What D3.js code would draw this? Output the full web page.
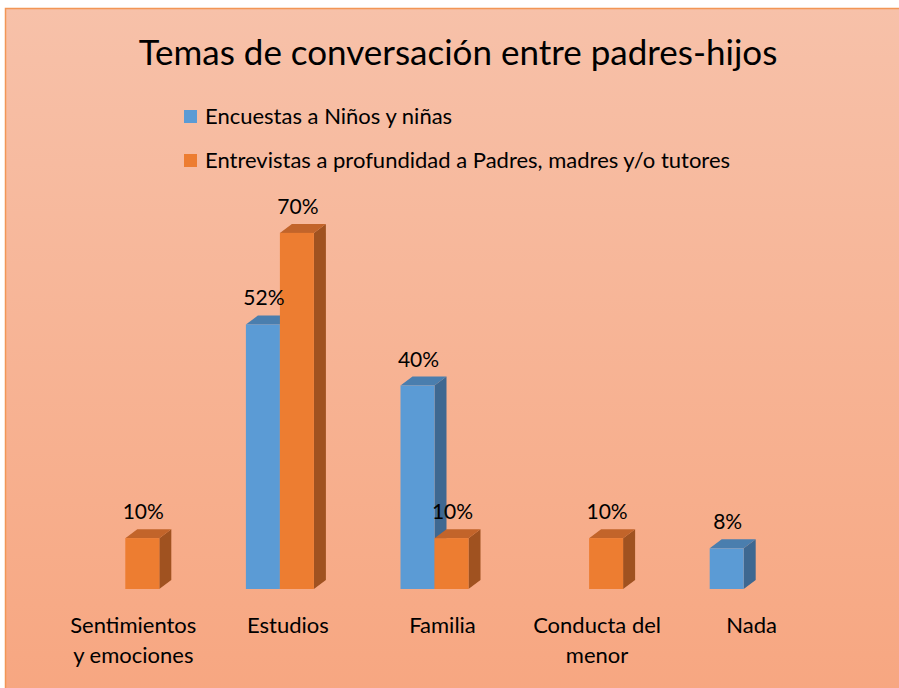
<!DOCTYPE html>
<html>
<head>
<meta charset="utf-8">
<script src="https://cdn.jsdelivr.net/npm/d3@7"></script>
<style>
  body { margin: 0; background: #fff; }
  svg { display: block; font-family: Lato, "Open Sans", sans-serif; }
</style>
</head>
<body>
<div id="chart"></div>
<script>
const categories = [['Sentimientos', 'y emociones'], ['Estudios'], ['Familia'], ['Conducta del', 'menor'], ['Nada']];
const series = ['Encuestas a Niños y niñas', 'Entrevistas a profundidad a Padres, madres y/o tutores'];
const ninos = [0, 52, 40, 0, 8];
const padres = [10, 70, 10, 10, 0];

const W = 899, H = 688;
const colors = [
  { front: '#5B9BD5', top: '#4A7EAE', side: '#3E6891' },
  { front: '#ED7D31', top: '#C2642A', side: '#A05220' }
];
const dx = 12, dy = 9;

const svg = d3.select('#chart').append('svg').attr('width', W).attr('height', H);

const defs = svg.append('defs');
const grad = defs.append('linearGradient').attr('id', 'bg').attr('x1', 0).attr('y1', 0).attr('x2', 0).attr('y2', 1);
grad.append('stop').attr('offset', '0%').attr('stop-color', '#F7C1A9');
grad.append('stop').attr('offset', '100%').attr('stop-color', '#F7A680');

svg.append('rect')
  .attr('x', 5.5).attr('y', 8.5)
  .attr('width', W + 10).attr('height', H + 10)
  .attr('fill', 'url(#bg)')
  .attr('stroke', '#F29656').attr('stroke-width', 1.5);

// title
svg.append('text')
  .attr('x', 458).attr('y', 65)
  .attr('text-anchor', 'middle')
  .attr('font-size', 35)
  .attr('fill', '#000')
  .text('Temas de conversación entre padres-hijos');

// legend
series.forEach((s, i) => {
  const y = 124 + i * 44;
  svg.append('rect').attr('x', 184).attr('y', y - 14).attr('width', 13).attr('height', 13).attr('fill', colors[i].front);
  svg.append('text').attr('x', 205).attr('y', y).attr('font-size', 22).attr('fill', '#000').text(s);
});

const x0 = d3.scaleBand().domain(d3.range(categories.length)).range([48, 821]);
const x1 = d3.scaleBand().domain([0, 1]).range([-34, 34]);
const y = d3.scaleLinear().domain([0, 80]).range([589, 589 - 407]);

const values = [ninos, padres];
const bars = [];
values.forEach((vals, si) => {
  vals.forEach((v, ci) => {
    if (v > 0) bars.push({ si, ci, v });
  });
});
// draw left to right so depth faces overlap correctly
bars.sort((a, b) => (a.ci - b.ci) || (a.si - b.si));

const g = svg.append('g');
bars.forEach(d => {
  const cx = x0(d.ci) + x0.bandwidth() / 2;
  const xl = cx + x1(d.si);
  const xr = xl + x1.bandwidth();
  const yt = y(d.v), yb = y(0);
  const c = colors[d.si];
  // side
  g.append('path')
    .attr('d', `M${xr},${yb}L${xr + dx},${yb - dy}L${xr + dx},${yt - dy}L${xr},${yt}Z`)
    .attr('fill', c.side);
  // top
  g.append('path')
    .attr('d', `M${xl},${yt}L${xl + dx},${yt - dy}L${xr + dx},${yt - dy}L${xr},${yt}Z`)
    .attr('fill', c.top);
  // front
  g.append('rect')
    .attr('x', xl).attr('y', yt)
    .attr('width', xr - xl).attr('height', yb - yt)
    .attr('fill', c.front);
});

// value labels
bars.forEach(d => {
  const cx = x0(d.ci) + x0.bandwidth() / 2 + x1(d.si) + x1.bandwidth() / 2;
  svg.append('text')
    .attr('x', cx + 1).attr('y', y(d.v) - 19)
    .attr('text-anchor', 'middle')
    .attr('font-size', 21)
    .attr('fill', '#000')
    .text(d.v + '%');
});

// category labels
categories.forEach((lines, ci) => {
  const cx = x0(ci) + x0.bandwidth() / 2 + 8;
  const t = svg.append('text').attr('text-anchor', 'middle').attr('font-size', 22).attr('fill', '#000');
  lines.forEach((l, li) => {
    t.append('tspan').attr('x', cx).attr('y', 633 + li * 30).text(l);
  });
});
</script>
</body>
</html>
